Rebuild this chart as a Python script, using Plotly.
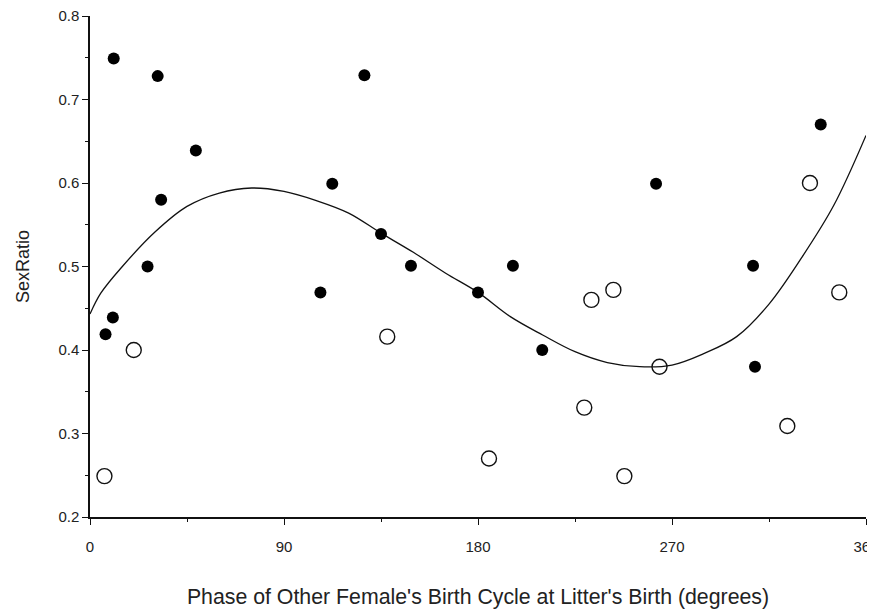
import plotly.graph_objects as go

# Filled points (black dots)
filled_x = [7.2, 10.6, 11.0, 31.4, 49.1, 33.0, 26.7, 127.3, 112.4, 135.0, 148.9,
            196.2, 106.9, 180.0, 209.8, 262.6, 339.0, 307.6, 308.5]
filled_y = [0.419, 0.439, 0.749, 0.728, 0.639, 0.580, 0.500, 0.729, 0.599, 0.539, 0.501,
            0.501, 0.469, 0.469, 0.400, 0.599, 0.670, 0.501, 0.380]

# Open circles
open_x = [6.7, 20.3, 137.9, 185.1, 229.3, 232.6, 242.8, 247.9, 264.2, 323.5, 334.0, 347.6]
open_y = [0.249, 0.400, 0.416, 0.270, 0.331, 0.460, 0.472, 0.249, 0.380, 0.309, 0.600, 0.469]

# Fitted curve
curve_x = [0, 5, 15, 30, 45, 60, 75, 90, 105, 120, 135, 150, 165, 180, 195, 210,
           225, 240, 255, 270, 285, 300, 315, 330, 345, 360]
curve_y = [0.443, 0.468, 0.500, 0.541, 0.572, 0.588, 0.594, 0.590, 0.579, 0.564, 0.540,
           0.517, 0.492, 0.469, 0.440, 0.418, 0.398, 0.385, 0.380, 0.382, 0.396, 0.416,
           0.455, 0.510, 0.573, 0.657]

x_ticks = [0, 90, 180, 270, 360]
y_ticks = [0.2, 0.3, 0.4, 0.5, 0.6, 0.7, 0.8]

fig = go.Figure()
fig.add_trace(go.Scatter(x=curve_x, y=curve_y, mode="lines",
                         line=dict(color="#111", width=1.3, shape="spline"),
                         showlegend=False, hoverinfo="skip"))
fig.add_trace(go.Scatter(x=filled_x, y=filled_y, mode="markers",
                         marker=dict(symbol="circle", size=12, color="#000",
                                     line=dict(width=0)),
                         showlegend=False))
fig.add_trace(go.Scatter(x=open_x, y=open_y, mode="markers",
                         marker=dict(symbol="circle-open", size=15, color="#111",
                                     line=dict(width=1.4)),
                         showlegend=False))

font_fam = "Liberation Sans, Arial, sans-serif"
fig.update_layout(
    width=875, height=610,
    margin=dict(l=81.5, r=17, t=8, b=101, autoexpand=False),
    paper_bgcolor="white", plot_bgcolor="white",
    font=dict(family=font_fam, color="#222"),
    xaxis=dict(
        range=[0, 360], tickvals=x_ticks, ticktext=[str(v) for v in x_ticks],
        showgrid=False, zeroline=False, showline=True, linecolor="#111", linewidth=1.5,
        ticks="outside", ticklen=6, tickwidth=1.2, tickcolor="#111",
        minor=dict(dtick=45, tick0=0, ticks="outside", ticklen=3, tickcolor="#111", tickwidth=1),
        tickfont=dict(size=15, family=font_fam, color="#222"),
        ticklabelstandoff=9, ticklabeloverflow="allow",
        title=dict(text="Phase of Other Female's Birth Cycle at Litter's Birth (degrees)",
                   font=dict(size=21.3, family=font_fam, color="#222"), standoff=35),
        automargin=False,
    ),
    yaxis=dict(
        range=[0.2, 0.8], tickvals=y_ticks, ticktext=["%.1f" % v for v in y_ticks],
        showgrid=False, zeroline=False, showline=True, linecolor="#111", linewidth=1.5,
        ticks="outside", ticklen=6, tickwidth=1.2, tickcolor="#111",
        minor=dict(dtick=0.05, tick0=0.2, ticks="outside", ticklen=3, tickcolor="#111", tickwidth=1),
        tickfont=dict(size=15, family=font_fam, color="#222"),
        ticklabeloverflow="allow",
        title=dict(text="SexRatio", font=dict(size=18, family=font_fam, color="#222"), standoff=24),
        automargin=False,
    ),
)

fig.write_html("out.html")
